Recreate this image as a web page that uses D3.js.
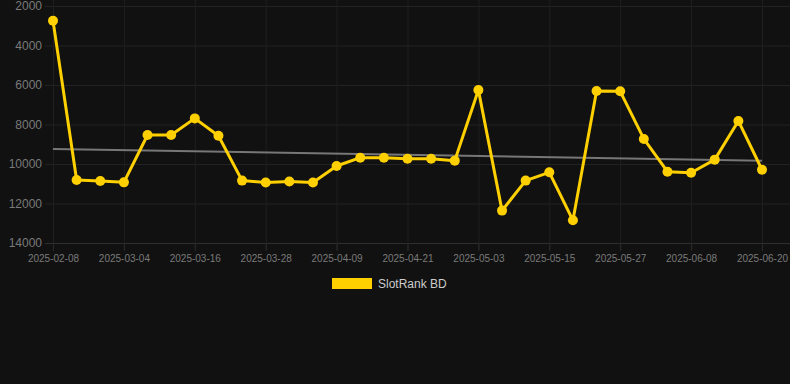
<!DOCTYPE html>
<html lang="en">
<head>
    <meta charset="UTF-8">
    <title>SlotRank BD</title>
    <style>
        body {
            margin: 0;
            padding: 0;
            background: #111111;
            font-family: Arial, "Liberation Sans", sans-serif;
        }
        #chart {
            display: block;
        }
    </style>
</head>
<body>
<svg id="chart"></svg>

<script src="https://d3js.org/d3.v7.min.js"></script>
<script>
    var dates = [
        "2025-02-08", "2025-02-24", "2025-02-28", "2025-03-04", "2025-03-08", "2025-03-12",
        "2025-03-16", "2025-03-20", "2025-03-24", "2025-03-28", "2025-04-01", "2025-04-05",
        "2025-04-09", "2025-04-13", "2025-04-17", "2025-04-21", "2025-04-25", "2025-04-29",
        "2025-05-03", "2025-05-07", "2025-05-11", "2025-05-15", "2025-05-19", "2025-05-23",
        "2025-05-27", "2025-05-31", "2025-06-04", "2025-06-08", "2025-06-12", "2025-06-16",
        "2025-06-20"
    ];
    var ranks = [
        2750, 10810, 10860, 10930, 8530, 8530,
        7690, 8570, 10840, 10940, 10890, 10940,
        10100, 9680, 9680, 9730, 9730, 9830,
        6250, 12360, 10840, 10420, 12850, 6300,
        6320, 8730, 10390, 10440, 9780, 7820,
        10290
    ];
    // trend line start / end values
    var trend = [9240, 9830];
    var yTicks = [2000, 4000, 6000, 8000, 10000, 12000, 14000];
    var seriesName = "SlotRank BD";

    var width = 790, height = 384;
    var svg = d3.select("#chart")
        .attr("width", width)
        .attr("height", height);

    svg.append("rect")
        .attr("width", width)
        .attr("height", height)
        .attr("fill", "#111111");

    var x = d3.scalePoint()
        .domain(dates)
        .range([53, 762]);

    var y = d3.scaleLinear()
        .domain([2000, 14000])
        .range([6, 243]);

    var labelDates = dates.filter(function (d, i) { return i % 3 === 0; });

    // horizontal grid
    var yAxis = d3.axisLeft(y)
        .tickValues(yTicks)
        .tickSize(-(width - 45))
        .tickPadding(3)
        .tickFormat(d3.format("d"));
    var gy = svg.append("g")
        .attr("transform", "translate(45,0)")
        .call(yAxis);
    gy.select(".domain").remove();
    gy.selectAll(".tick line")
        .attr("stroke", function (d) { return d === 14000 ? "#2e2e2e" : "#222222"; });
    gy.selectAll(".tick text")
        .attr("fill", "#7a7a7a")
        .style("font-size", "12px")
        .style("font-family", "Arial, 'Liberation Sans', sans-serif");

    // vertical grid
    var xAxis = d3.axisBottom(x)
        .tickValues(labelDates)
        .tickSize(-250)
        .tickPadding(3);
    var gx = svg.append("g")
        .attr("transform", "translate(0,250)")
        .call(xAxis);
    gx.select(".domain").remove();
    gx.selectAll(".tick line").attr("stroke", "#1f1f1f");
    gx.selectAll(".tick text")
        .attr("fill", "#7a7a7a")
        .attr("dy", "0.9em")
        .style("font-size", "10px")
        .style("font-family", "Arial, 'Liberation Sans', sans-serif");
    gx.selectAll(".tick")
        .append("line")
        .attr("y1", -7)
        .attr("y2", 1)
        .attr("stroke", "#2a2a2a");

    // trend line
    svg.append("line")
        .attr("x1", x(dates[0]))
        .attr("x2", x(dates[dates.length - 1]))
        .attr("y1", y(trend[0]))
        .attr("y2", y(trend[1]))
        .attr("stroke", "#777777")
        .attr("stroke-width", 2);

    // series
    var data = dates.map(function (d, i) { return {date: d, value: ranks[i]}; });
    var line = d3.line()
        .x(function (d) { return x(d.date); })
        .y(function (d) { return y(d.value); });

    svg.append("path")
        .datum(data)
        .attr("d", line)
        .attr("fill", "none")
        .attr("stroke", "#FFD000")
        .attr("stroke-width", 3)
        .attr("stroke-linejoin", "round");

    svg.selectAll("circle.pt")
        .data(data)
        .enter()
        .append("circle")
        .attr("class", "pt")
        .attr("cx", function (d) { return x(d.date); })
        .attr("cy", function (d) { return y(d.value); })
        .attr("r", 5)
        .attr("fill", "#FFD000");

    // legend
    var legend = svg.append("g").attr("transform", "translate(332,278)");
    legend.append("rect")
        .attr("width", 40)
        .attr("height", 11)
        .attr("fill", "#FFD000");
    legend.append("text")
        .attr("x", 46)
        .attr("y", 10)
        .attr("fill", "#cccccc")
        .style("font-size", "12px")
        .text(seriesName);
</script>
</body>
</html>
